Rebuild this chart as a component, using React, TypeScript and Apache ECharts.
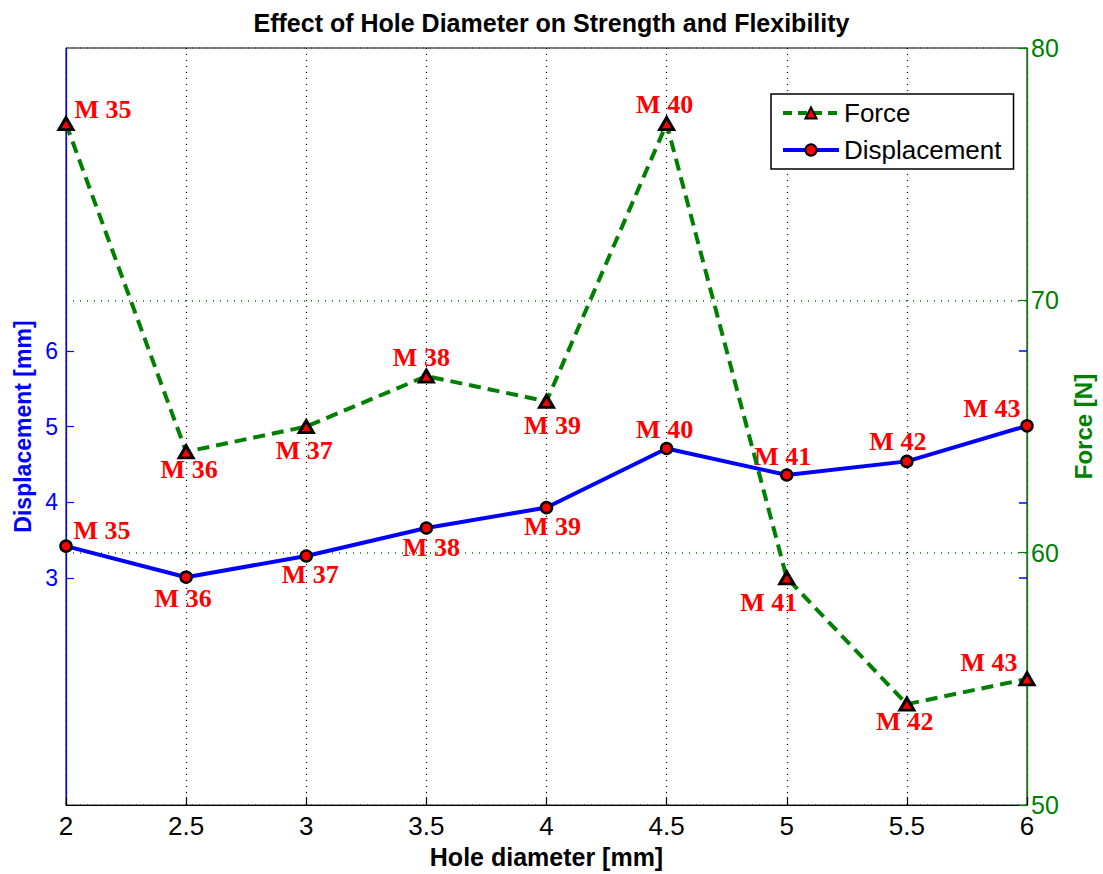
import React, { useEffect, useRef } from "react";
import * as echarts from "echarts";

const holeDiameter = [2, 2.5, 3, 3.5, 4, 4.5, 5, 5.5, 6];
const forceN = [77, 64, 65, 67, 66, 77, 59, 54, 55];
const displacementMm = [3.42, 3.01, 3.29, 3.66, 3.93, 4.71, 4.36, 4.54, 5.01];
const specimenLabels = ["M 35", "M 36", "M 37", "M 38", "M 39", "M 40", "M 41", "M 42", "M 43"];
const displacementTicks = [3, 4, 5, 6];
const forceTicks = [50, 60, 70, 80];

// label placement (offset of label centre from marker), layout only
const forceLabelOffsets = [[37, -14], [3, 18], [-2, 24], [-5, -19], [6, 24], [-2, -19], [-18, 25], [-2, 17], [-38, -16]];
const dispLabelOffsets = [[36, -16], [-3, 21], [4, 18], [5, 19], [6, 19], [-2, -19], [-4, -19], [-9, -20], [-35, -17]];

const SANS = "Liberation Sans, Arial, Helvetica, sans-serif";
const SERIF = "Liberation Serif, Times New Roman, serif";
const GREEN = "#008000";
const BLUE = "#0000ff";

export default function App() {
  const ref = useRef<HTMLDivElement>(null);
  useEffect(() => {
    if (!ref.current) return;
    const chart = echarts.init(ref.current, null, { renderer: "svg" });
    const labelBase = {
      show: true,
      position: "inside",
      color: "#ff0000",
      fontFamily: SERIF,
      fontWeight: "bold",
      fontSize: 26,
      align: "center",
      verticalAlign: "middle",
    };
    const forceData = holeDiameter.map((x, i) => ({
      value: [x, forceN[i]],
      label: { ...labelBase, offset: forceLabelOffsets[i], formatter: specimenLabels[i] },
    }));
    const dispData = holeDiameter.map((x, i) => ({
      value: [x, displacementMm[i]],
      label: { ...labelBase, offset: dispLabelOffsets[i], formatter: specimenLabels[i] },
    }));
    chart.setOption({
      animation: false,
      backgroundColor: "#fff",
      title: {
        text: "Effect of Hole Diameter on Strength and Flexibility",
        left: "center",
        top: 5,
        textStyle: { fontFamily: SANS, fontWeight: "bold", fontSize: 25, color: "#000" },
      },
      legend: {
        orient: "vertical",
        left: 771,
        top: 94,
        selectedMode: false,
        data: [
          { name: "Force", lineStyle: { width: 4, type: [9, 6] } },
          { name: "Displacement", lineStyle: { width: 4 } },
        ],
        backgroundColor: "#fff",
        borderColor: "#000",
        borderWidth: 1.5,
        borderRadius: 0,
        padding: [6, 12, 6, 10],
        itemGap: 11,
        itemWidth: 56,
        itemHeight: 14,
        textStyle: { fontFamily: SANS, fontSize: 26, color: "#000" },
      },
      grid: {
        left: 66,
        right: 71,
        top: 48,
        bottom: 66,
        show: true,
        borderColor: "#000",
        borderWidth: 1,
        backgroundColor: "transparent",
      },
      xAxis: {
        type: "value",
        min: 2,
        max: 6,
        interval: 0.5,
        name: "Hole diameter [mm]",
        nameLocation: "middle",
        nameGap: 36,
        nameTextStyle: { fontFamily: SANS, fontWeight: "bold", fontSize: 25, color: "#000" },
        axisLine: { lineStyle: { color: "#000", width: 1.2 } },
        axisTick: { inside: true, length: 8, lineStyle: { color: "#000", width: 1.2 } },
        axisLabel: { fontFamily: SANS, fontSize: 26, color: "#000", margin: 8 },
        splitLine: { show: true, lineStyle: { color: "#000", type: [1, 5], width: 1.2 } },
      },
      yAxis: [
        {
          type: "value",
          min: 0,
          max: 10,
          interval: 1,
          position: "left",
          name: "Displacement [mm]",
          nameLocation: "middle",
          nameGap: 32,
          nameTextStyle: { fontFamily: SANS, fontWeight: "bold", fontSize: 23, color: BLUE },
          axisLine: { show: true, lineStyle: { color: BLUE, width: 1.2 } },
          axisTick: { show: true, inside: true, length: 8, customValues: displacementTicks, lineStyle: { color: BLUE, width: 1.2 } },
          axisLabel: { fontFamily: SANS, fontSize: 23, color: BLUE, margin: 8, customValues: displacementTicks },
          splitLine: { show: false },
        },
        {
          type: "value",
          min: 50,
          max: 80,
          interval: 10,
          position: "right",
          name: "Force [N]",
          nameLocation: "middle",
          nameGap: 44,
          nameTextStyle: { fontFamily: SANS, fontWeight: "bold", fontSize: 24, color: GREEN },
          axisLine: { show: true, lineStyle: { color: GREEN, width: 1.2 } },
          axisTick: { show: true, inside: true, length: 8, customValues: forceTicks, lineStyle: { color: GREEN, width: 1.2 } },
          axisLabel: { fontFamily: SANS, fontSize: 25, color: GREEN, margin: 4, customValues: forceTicks },
          splitLine: { show: true, lineStyle: { color: GREEN, type: [1, 6], width: 1.5 } },
        },
        {
          type: "value",
          min: 0,
          max: 10,
          interval: 1,
          position: "right",
          axisLine: { show: false },
          axisTick: { show: true, inside: true, length: 8, customValues: displacementTicks, lineStyle: { color: BLUE, width: 1.5 } },
          axisLabel: { show: false },
          splitLine: { show: false },
        },
      ],
      series: [
        {
          name: "Displacement",
          type: "line",
          yAxisIndex: 0,
          data: dispData,
          symbol: "circle",
          symbolSize: 11,
          clip: false,
          lineStyle: { color: BLUE, width: 4 },
          itemStyle: { color: "#ff0000", borderColor: "#000", borderWidth: 2.5 },
          z: 3,
        },
        {
          name: "Force",
          type: "line",
          yAxisIndex: 1,
          data: forceData,
          symbol: "triangle",
          symbolSize: [14, 12],
          clip: false,
          lineStyle: { color: GREEN, width: 4, type: [12, 7] },
          itemStyle: { color: "#ff0000", borderColor: "#000", borderWidth: 3 },
          z: 4,
        },
      ],
    });
    return () => chart.dispose();
  }, []);
  return (
    <div
      ref={ref}
      style={{ position: "fixed", left: 0, top: 0, width: 1103, height: 874, background: "#fff" }}
    />
  );
}
